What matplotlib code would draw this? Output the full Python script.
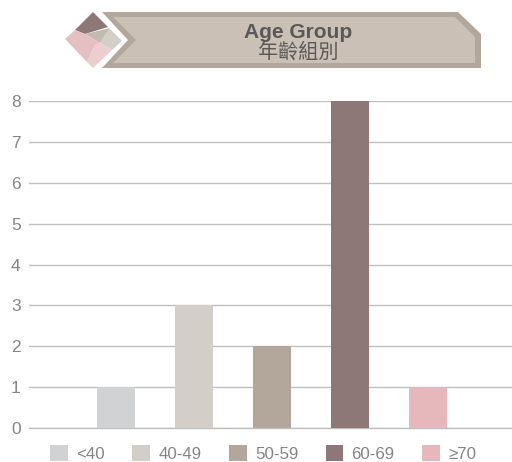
import matplotlib
matplotlib.use("Agg")
import matplotlib.pyplot as plt
from matplotlib.patches import Polygon, Patch

# data
groups = ["<40", "40-49", "50-59", "60-69", "≥70"]
counts = [1, 3, 2, 8, 1]
colors = ["#d0d2d3", "#d3cfc8", "#b3a69b", "#8d7877", "#e6b8bb"]
yticks = [0, 1, 2, 3, 4, 5, 6, 7, 8]

W, H = 512, 462
TEXT = "#858585"
plt.rcParams["font.family"] = ["Liberation Sans", "DejaVu Sans"]

fig = plt.figure(figsize=(W / 100, H / 100), dpi=100)

# plot area in pixels: x 29-512, y 101-428
ax = fig.add_axes([29 / W, 1 - 428 / H, (512 - 29) / W, (428 - 101) / H])
x = list(range(len(groups)))
ax.bar(x, counts, width=0.49, color=colors, zorder=3)
ax.set_xlim(-1.115, 5.077)
ax.set_ylim(0, 8)
ax.set_yticks(yticks)
ax.set_xticks([])
ax.tick_params(axis="y", length=0, pad=6, labelsize=12.5, labelcolor=TEXT)
ax.grid(axis="y", color="#bfbfbf", linewidth=1, zorder=0)
ax.set_axisbelow(True)
for name in ["top", "left", "right"]:
    ax.spines[name].set_visible(False)
ax.spines["bottom"].set_color("#bfbfbf")
ax.spines["bottom"].set_linewidth(1)

handles = [Patch(facecolor=c, edgecolor="none", label=g) for c, g in zip(colors, groups)]
leg = fig.legend(handles=handles, loc="center left", bbox_to_anchor=(50 / W, 1 - 453.5 / H),
                 ncol=5, frameon=False, fontsize=12.2, labelcolor=TEXT, borderpad=0, borderaxespad=0,
                 handlelength=1.06, handleheight=1.06, handletextpad=0.48, columnspacing=1.62)

# header banner, drawn in pixel coordinates
hd = fig.add_axes([0, 0, 1, 1], zorder=5)
hd.set_xlim(0, W)
hd.set_ylim(H, 0)
hd.axis("off")
hd.add_patch(Polygon([(102, 12), (458, 12), (481, 34), (481, 68), (102, 68), (128, 40)],
                     facecolor="#b3a69b", edgecolor="none"))
hd.add_patch(Polygon([(113, 17), (455, 17), (475, 37), (475, 63), (113, 63), (136, 40)],
                     facecolor="#cbc0b6", edgecolor="none"))

# little diamond
hd.add_patch(Polygon([(75, 30), (93, 12), (108, 27), (85, 34)], facecolor="#8d7877", edgecolor="none"))
hd.add_patch(Polygon([(85, 34), (110, 28), (100, 43)], facecolor="#c3bbb0", edgecolor="none"))
hd.add_patch(Polygon([(108, 27), (122, 41), (112, 50), (100, 43), (110, 28)], facecolor="#d3cfc8", edgecolor="none"))
hd.add_patch(Polygon([(65, 39), (75, 30), (85, 34), (100, 43), (95, 45), (87, 62)], facecolor="#e6bfc2", edgecolor="none"))
hd.add_patch(Polygon([(95, 45), (100, 43), (112, 50), (93, 68), (87, 62)], facecolor="#eccdd0", edgecolor="none"))

hd.text(298, 32, "Age Group", ha="center", va="center", fontsize=15, fontweight="bold", color="#595959")
hd.text(298, 52, "年齡組別", ha="center", va="center", fontsize=14.5, color="#595959",
        family=["Noto Sans CJK TC", "DejaVu Sans"])

fig.savefig("out.png", dpi=100)
